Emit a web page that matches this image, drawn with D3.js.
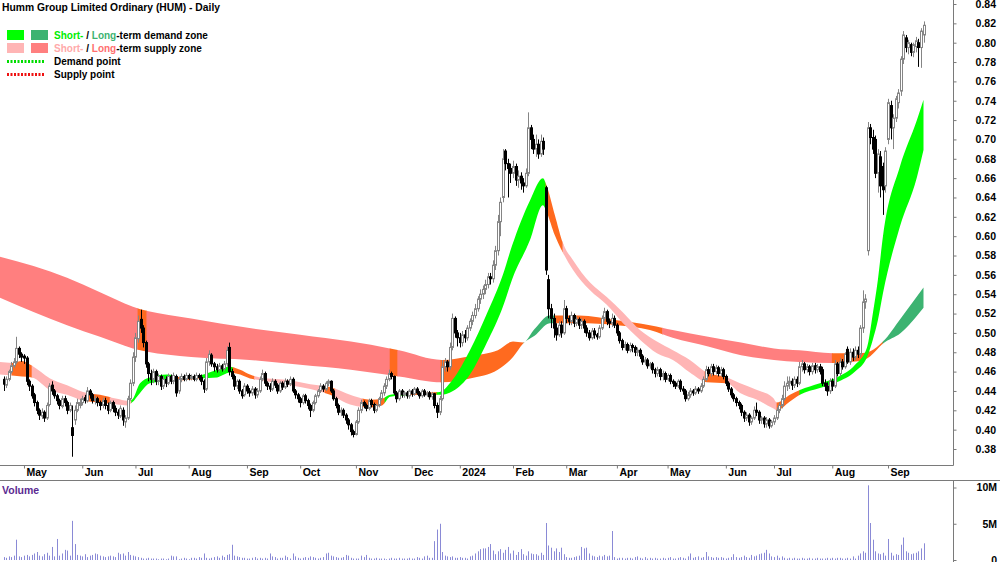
<!DOCTYPE html>
<html><head><meta charset="utf-8">
<script src="https://cdn.jsdelivr.net/npm/d3@7"></script>
<style>
body{margin:0;background:#fff}
svg{display:block}
text{font-family:"Liberation Sans",Arial,sans-serif;font-weight:bold;}
</style>
</head><body>
<svg id="c" width="1000" height="562"></svg>
<script>
// ---------- DATA (prices in thousandths of a dollar, volume in millions) ----------
const OPEN = [
452,446,452,460,466,470,484,478,476,474, 450,445,436,428,420,414,418,412,426,446,
440,435,430,424,432,428,420,402,410,420, 425,428,433,430,440,436,430,432,428,425,
430,425,420,428,422,418,414,420,408,412, 432,448,475,494,514,505,490,468,458,452,
460,450,455,445,452,448,455,450,455,440, 452,455,452,456,453,455,452,456,454,450,
442,470,477,468,465,462,466,463,468,485, 460,455,445,450,440,436,445,440,438,442,
436,440,452,458,448,445,442,450,446,440, 448,444,450,447,452,440,436,432,428,435,
430,425,420,428,435,440,445,442,448,450, 440,432,425,418,420,415,410,405,398,395,
408,420,428,425,422,430,426,420,425,432, 438,445,452,458,455,438,432,440,436,438,
435,440,437,442,438,435,440,436,438,434, 437,425,418,432,465,470,465,485,515,500,
495,490,498,495,505,512,518,525,535,540, 545,550,558,556,570,585,615,640,688,675,
670,665,672,658,662,655,652,665,712,700, 690,695,685,698,650,555,525,515,505,498,
508,500,525,515,512,518,510,514,508,512, 505,500,495,502,498,496,505,515,522,512,
510,515,508,500,492,485,488,482,487,485, 480,482,476,470,472,466,468,462,458,462,
455,458,452,456,450,448,445,450,442,440, 432,436,440,438,442,440,445,452,462,458,
465,460,464,458,462,455,448,442,436,432, 428,425,418,412,415,408,412,420,418,410,
412,406,410,404,408,412,420,425,432,445, 448,450,446,452,448,465,468,462,465,460,
466,462,465,462,448,445,440,450,445,468, 458,470,465,483,470,480,475,482,478,505,
532,585,712,702,700,665,682,672,652,700, 735,712,722,738,750,783,805,795,798,790,
796,800,795,808];
const HIGH = [
455,455,462,470,474,496,486,480,478,476, 452,447,438,430,422,422,420,428,448,450,
442,437,432,435,435,430,428,425,425,432, 432,435,436,444,442,438,435,434,430,433,
433,428,430,430,425,421,425,423,415,435, 452,480,500,518,524,508,492,470,462,463,
462,458,457,455,455,458,457,459,457,455, 458,457,459,458,457,457,459,458,457,452,
474,482,479,470,468,469,468,471,486,490, 463,457,452,452,442,448,447,443,445,444,
443,455,462,460,450,448,453,452,448,450, 450,453,452,455,454,442,438,434,437,437,
432,427,430,437,442,448,447,450,452,451, 442,434,427,423,422,417,412,407,400,410,
423,431,430,427,432,432,428,427,434,441, 448,455,462,460,456,440,442,442,440,440,
442,442,444,444,440,442,442,440,440,439, 438,428,435,472,474,472,490,520,517,503,
500,502,503,508,515,522,530,538,545,549, 555,562,562,575,590,622,640,690,690,680,
675,678,675,668,666,660,670,728,715,705, 705,700,705,702,652,560,530,520,510,512,
512,534,528,518,522,520,517,516,515,514, 508,503,505,505,500,508,518,526,524,515,
520,518,510,502,494,491,490,490,489,487, 485,484,478,475,474,470,470,464,465,464,
461,460,458,458,452,450,452,452,445,442, 439,443,442,445,444,448,455,466,465,468,
468,467,466,465,464,457,450,444,438,434, 430,427,420,418,417,414,424,428,420,414,
414,413,412,410,415,423,428,436,450,455, 455,453,455,455,470,472,470,468,467,469,
469,468,468,465,452,449,453,453,472,470, 474,473,480,486,484,484,486,486,508,544,
540,718,716,710,704,690,688,676,692,742, 740,726,745,752,786,812,808,803,800,800,
806,804,815,822];
const LOW = [
440,443,450,458,464,468,474,470,468,446, 440,432,424,416,410,411,408,410,424,436,
432,426,421,422,424,416,418,372,405,418, 422,425,427,428,432,427,426,424,420,422,
421,416,418,418,414,411,412,404,402,410, 430,445,470,490,500,485,464,450,446,448,
446,446,441,442,444,446,447,447,434,437, 449,450,450,451,451,450,450,451,446,438,
440,466,465,460,459,460,460,461,465,456, 452,441,442,437,432,434,437,434,435,432,
433,438,450,445,441,439,440,443,437,438, 441,442,444,445,438,432,428,423,426,427,
421,413,418,426,433,438,439,440,445,438, 430,422,415,414,412,406,400,394,392,394,
406,417,422,419,420,423,417,418,423,430, 435,442,450,452,436,428,430,433,433,432,
432,434,435,436,432,433,434,434,431,431, 422,412,415,430,460,460,462,482,495,486,
485,486,490,492,502,508,515,522,530,535, 540,546,550,552,565,580,600,635,668,640,
655,660,652,650,648,645,650,662,690,685, 682,680,682,684,560,515,505,495,492,496,
495,498,510,508,508,506,507,504,504,500, 496,492,493,494,493,494,503,512,508,505,
506,505,497,489,482,482,479,480,480,476, 476,473,467,467,463,463,458,454,455,451,
451,449,450,447,444,442,443,439,436,429, 430,433,435,436,437,438,443,450,455,455,
456,457,455,455,452,445,439,433,429,424, 421,414,408,409,404,405,410,414,406,406,
402,402,401,402,405,410,417,422,430,440, 442,441,443,444,446,460,458,459,456,457,
458,459,457,445,440,435,437,440,443,455, 455,462,463,468,467,471,472,474,475,500,
525,580,695,685,660,645,640,622,645,695, 700,690,718,732,745,778,790,788,786,785,
790,775,774,800];
const CLOSE = [
447,452,460,466,470,484,478,475,474,450, 445,435,428,420,415,418,412,425,445,440,
435,430,425,432,428,420,425,394,420,428, 428,432,430,440,436,430,432,428,425,430,
425,420,428,422,418,415,422,410,412,432, 448,475,495,512,505,490,468,458,452,460,
450,455,445,452,448,455,450,456,438,452, 455,452,456,453,455,452,456,454,450,442,
470,478,468,465,462,466,463,468,482,460, 455,445,450,440,435,445,440,438,442,436,
440,452,458,448,445,442,450,446,440,448, 444,450,447,452,440,436,432,428,435,430,
425,420,428,435,440,445,442,448,450,440, 432,425,418,420,415,410,405,398,395,408,
420,428,425,422,430,426,420,425,432,438, 445,452,458,455,438,432,440,436,438,435,
440,437,442,438,435,440,436,438,434,437, 425,418,432,465,470,465,485,515,500,495,
490,498,495,505,512,518,525,535,540,545, 550,558,556,570,585,615,635,680,675,670,
665,672,658,662,655,652,665,712,700,690, 695,685,698,690,565,525,515,505,498,508,
500,525,515,512,518,510,514,508,512,505, 500,495,502,498,496,505,515,522,512,510,
515,508,500,492,485,488,482,487,485,480, 482,476,470,472,466,468,462,458,462,455,
458,452,456,450,448,445,450,442,440,432, 436,440,438,442,440,445,452,462,458,465,
460,464,458,462,455,448,442,436,432,428, 425,418,412,415,408,412,420,418,410,412,
406,410,404,408,412,420,425,432,445,448, 450,446,452,448,465,468,462,465,460,466,
462,465,460,448,445,440,450,445,468,458, 470,465,478,470,480,475,482,478,505,532,
535,712,702,690,665,685,652,648,688,738, 712,722,742,748,783,808,795,800,790,798,
802,795,812,818];
const VOLUME = [
0.4,0.3,0.5,0.4,0.6,2.8,0.5,0.4,0.6,0.7, 0.5,0.7,0.9,1.1,0.6,0.5,0.8,1.0,0.6,1.8,
0.5,2.9,0.6,0.9,1.4,1.3,0.6,5.4,2.2,0.7, 0.6,0.5,0.8,0.4,0.6,0.7,0.9,0.8,0.6,0.5,
0.4,0.5,0.6,0.5,0.4,1.0,0.8,0.9,0.6,1.1, 0.7,0.6,0.5,0.4,0.3,0.2,0.2,0.3,0.2,0.2,
0.2,0.1,0.2,0.2,0.1,0.2,0.6,0.5,0.5,0.1, 0.2,0.3,0.2,0.1,0.3,0.3,0.2,0.4,0.3,0.9,
0.3,0.2,0.3,0.4,0.5,0.3,0.6,0.4,0.7,0.8, 2.1,0.6,0.5,0.4,0.3,0.3,0.2,0.2,0.3,0.4,
0.2,0.3,0.2,0.3,0.2,0.9,0.5,0.4,0.2,0.3, 0.3,0.6,0.4,0.2,0.9,0.5,0.3,0.2,0.3,0.4,
0.3,0.5,0.4,0.3,0.2,0.3,0.4,0.9,1.0,0.6, 0.5,0.4,0.3,0.3,0.4,0.7,0.6,0.3,0.2,0.2,
0.2,0.6,0.4,0.7,0.3,0.2,0.2,0.3,0.2,0.2, 0.2,0.1,0.2,0.3,0.2,0.2,0.3,0.2,0.2,0.2,
0.3,0.2,0.2,0.4,0.3,0.2,0.5,0.6,0.3,0.3, 2.6,4.2,5.0,1.1,0.6,0.5,0.4,0.5,0.3,0.3,
0.4,0.3,0.3,0.2,0.5,0.6,0.9,1.2,1.5,1.6, 1.6,1.8,2.2,1.3,0.8,1.2,1.5,1.0,1.4,1.8,
0.9,1.3,0.7,1.1,1.5,0.8,0.6,1.2,0.9,0.8, 0.8,0.6,1.0,0.7,5.1,2.0,1.7,1.2,1.6,1.1,
1.7,0.8,0.4,0.3,0.3,0.4,0.5,0.6,1.8,1.6, 1.7,0.9,0.6,0.5,0.4,0.6,0.5,0.7,0.5,0.6,
4.0,0.4,0.2,0.3,0.3,0.2,0.3,0.3,0.2,0.4, 0.5,0.3,0.2,0.4,0.2,0.3,0.2,0.3,0.2,0.2,
0.3,0.2,0.3,0.4,0.2,0.2,0.3,0.4,0.3,0.2, 0.5,0.9,0.3,0.4,0.5,0.3,0.4,1.1,0.5,0.4,
0.3,0.4,0.3,0.4,0.3,0.2,0.3,0.4,0.8,0.4, 0.3,0.4,0.6,0.4,0.3,0.7,0.5,0.6,0.8,0.9,
1.0,1.4,0.9,0.5,0.4,0.6,0.3,0.5,0.3,0.2, 0.3,0.2,0.3,0.2,0.2,0.3,0.2,0.2,0.3,0.2,
0.2,0.3,0.2,0.2,0.2,0.3,0.2,0.3,0.2,0.3, 0.3,0.2,0.2,0.3,0.2,0.5,0.2,0.6,0.9,1.2,
1.0,10.3,5.1,2.8,1.2,0.9,0.8,1.0,0.6,2.9, 1.0,0.6,0.8,0.7,2.1,3.1,1.2,1.0,0.8,0.9,
1.0,1.2,1.6,2.3];

// month tick labels at bar index of first trading day
const MONTH_IDX = [8,31,52,73,96,117,139,161,180,201,222,242,262,285,304,327,349];
const MONTH_LBL = ["May","Jun","Jul","Aug","Sep","Oct","Nov","Dec","2024","Feb","Mar","Apr","May","Jun","Jul","Aug","Sep"];
const PRICE_TICKS = [0.38,0.40,0.42,0.44,0.46,0.48,0.50,0.52,0.54,0.56,0.58,0.60,0.62,0.64,0.66,0.68,0.70,0.72,0.74,0.76,0.78,0.80,0.82,0.84];
const VOL_TICKS = [0,5,10];
const VOL_LBL = ["0","5M","10M"];

// long-term zone: [bar index, upper, lower]
const LONG_ZONE = [
[-2,.579,.537],[25,.557,.508],[38,.542,.496],[51,.527,.484],[74,.515,.475],[97,.505,.472],
[117,.498,.467],[137,.491,.462],[156,.482,.455],[173,.472,.449],[184,.476,.453],[195,.482,.462],
[201,.491,.475],[205,.490,.489],[209.5,.504,.497],[215.5,.518,.510],[227,.518,.510],[242,.513,.508],
[255,.508,.503],[264,.503,.495],[278,.496,.486],[291,.490,.477],[304,.484,.472],[314,.482,.470],
[327,.479,.469],[338,.479,.471],[342,.481,.476],[347,.491,.489],[354,.515,.500],[363,.547,.526]];
const LONG_SEGS = [[-2,53,"ltSupply"],[53,56.5,"mixed"],[56.5,152.5,"ltSupply"],[152.5,155.5,"mixed"],
[155.5,172.5,"ltSupply"],[172.5,205.3,"mixed"],[205.3,217.5,"ltDemand"],[217.5,260,"mixed"],
[260,327,"ltSupply"],[327,347,"mixed"],[347,364,"ltDemand"]];

// short-term zone: [bar index, upper, lower]
const SHORT_ZONE = [
[-2,.470,.457],[3.3,.469,.456],[7.2,.471,.455],[11.2,.466,.454],[18.3,.453,.441],[25,.446,.436],
[31.3,.439,.430],[38,.436,.428],[44.7,.432,.426],[48.7,.430,.425],[50.6,.431,.428],[53.8,.448,.438],
[57.7,.454,.448],[64.4,.457,.450],[70.8,.454,.451],[77.5,.456,.453],[84.2,.462,.454],[89.3,.465,.459],
[93.3,.462,.457],[97.2,.457,.453],[101.2,.454,.451],[113,.451,.446],[121,.447,.442],[128.8,.444,.436],
[136.7,.436,.426],[144.6,.431,.423],[149.3,.432,.425],[152.5,.436,.434],[156.4,.437,.435],
[164.3,.438,.436],[172,.439,.436],[177.3,.452,.440],[184,.482,.457],[190.7,.520,.490],
[197,.560,.527],[200.6,.590,.555],[207.7,.637,.596],[212.8,.660,.632],[214.4,.651,.624],
[217.5,.622,.601],[220.7,.593,.583],[224.7,.575,.565],[231.4,.552,.544],[238,.537,.529],
[244.4,.521,.510],[251.1,.503,.493],[257.8,.491,.479],[264.1,.482,.472],[270.8,.472,.459],
[277.5,.459,.449],[285.4,.454,.448],[290.6,.448,.438],[297.3,.441,.431],[303.6,.433,.422],
[305.2,.428,.420],[310.3,.436,.429],[314.2,.441,.436],[322.1,.448,.443],[328.8,.454,.449],
[336,.467,.460],[340.7,.485,.475],[343,.520,.493],[345,.555,.513],[347,.600,.541],
[353.7,.672,.610],[360.4,.720,.661],[363,.741,.689]];
const SHORT_SEGS = [[-2,3.3,"stSupply"],[3.3,11.2,"mixed"],[11.2,33.3,"stSupply"],[33.3,42,"mixed"],
[42,50.5,"stSupply"],[50.5,66.8,"stDemand"],[66.8,77.5,"mixed"],[77.5,90.5,"stDemand"],
[90.5,99,"mixed"],[99,126.8,"stSupply"],[126.8,130.8,"mixed"],[130.8,141.8,"stSupply"],
[141.8,150.5,"mixed"],[150.5,159.2,"stDemand"],[159.2,171,"mixed"],[171,214,"stDemand"],
[214,220.7,"mixed"],[220.7,276.8,"stSupply"],[276.8,285.4,"mixed"],[285.4,305.2,"stSupply"],
[305.2,314.2,"mixed"],[314.2,364,"stDemand"]];

// ---------- DRAWING ----------
const COL = {ltSupply:"#FF7F7F", stSupply:"#FFB5B5", mixed:"#FF6A1F", stDemand:"#00FF00", ltDemand:"#3CB371"};
const svg = d3.select("#c");
const defs = svg.append("defs");
const x = d3.scaleLinear().domain([0, 363]).range([3.7, 923.5]);
const y = d3.scaleLinear().domain([0.38, 0.84]).range([449, 4]);
const yv = d3.scaleLinear().domain([0, 10]).range([560, 487.5]);
const P = v => v / 1000;

defs.append("clipPath").attr("id","plotclip").append("rect").attr("x",0).attr("y",0).attr("width",953).attr("height",465);
const plot = svg.append("g").attr("clip-path","url(#plotclip)");

function drawZone(samples, segs, id) {
  const area = d3.area().x(d => x(d[0])).y0(d => y(d[2])).y1(d => y(d[1])).curve(d3.curveMonotoneX);
  const d = area(samples);
  const g = plot.append("g");
  segs.forEach(([a, b, c], k) => {
    const cid = id + k;
    defs.append("clipPath").attr("id", cid).append("rect")
      .attr("x", x(a) - 0.4).attr("width", x(b) - x(a) + 0.8).attr("y", 0).attr("height", 465);
    g.append("path").attr("d", d).attr("fill", COL[c]).attr("clip-path", `url(#${cid})`);
  });
}
drawZone(LONG_ZONE, LONG_SEGS, "lz");
drawZone(SHORT_ZONE, SHORT_SEGS, "sz");

// candles
const cg = plot.append("g");
CLOSE.forEach((c, i) => {
  const o = OPEN[i], up = c >= o;
  const cx = Math.round(x(i));
  const col = up ? "#858585" : "#000";
  cg.append("line").attr("x1", cx + 0.5).attr("x2", cx + 0.5)
    .attr("y1", y(P(HIGH[i]))).attr("y2", y(P(LOW[i]))).attr("stroke", col).attr("stroke-width", 1);
  const top = y(P(Math.max(o, c))), bot = y(P(Math.min(o, c)));
  cg.append("rect").attr("x", cx - 0.5).attr("width", 2)
    .attr("y", top).attr("height", Math.max(1, bot - top))
    .attr("fill", up ? "#fff" : "#000").attr("stroke", col).attr("stroke-width", 1);
});

// volume
const vg = svg.append("g");
VOLUME.forEach((v, i) => {
  const cx = Math.round(x(i)) + 0.5;
  vg.append("line").attr("x1", cx).attr("x2", cx).attr("y1", yv(0)).attr("y2", yv(v))
    .attr("stroke", "#8A8AD6").attr("stroke-width", 1);
});

// frame lines
const lc = "#7a7a7a";
svg.append("line").attr("x1",0).attr("x2",953.5).attr("y1",465.5).attr("y2",465.5).attr("stroke",lc);
svg.append("line").attr("x1",0).attr("x2",1000).attr("y1",480.5).attr("y2",480.5).attr("stroke",lc);
svg.append("line").attr("x1",953.5).attr("x2",953.5).attr("y1",0).attr("y2",465.5).attr("stroke",lc);
svg.append("line").attr("x1",953.5).attr("x2",953.5).attr("y1",480.5).attr("y2",562).attr("stroke",lc);

const FONT = "'Liberation Sans',Arial,sans-serif";
// price axis
const pa = svg.append("g").attr("transform","translate(953.5,0)")
  .call(d3.axisRight(y).tickValues(PRICE_TICKS).tickSize(3).tickFormat(d3.format(".2f")));
pa.select(".domain").remove();
pa.selectAll(".tick line").attr("stroke", lc);
pa.selectAll(".tick text").attr("x", 42.5).attr("text-anchor","end").attr("fill","#000")
  .style("font-size","10.5px").style("font-family",FONT).style("font-weight","bold");

// volume axis
const va = svg.append("g").attr("transform","translate(953.5,0)")
  .call(d3.axisRight(yv).tickValues(VOL_TICKS).tickSize(3).tickFormat((d,k) => VOL_LBL[k]));
va.select(".domain").remove();
va.selectAll(".tick line").attr("stroke", lc);
va.selectAll(".tick text").attr("x", 43.5).attr("text-anchor","end").attr("fill","#000")
  .style("font-size","10.5px").style("font-family",FONT).style("font-weight","bold");

// month axis
const ma = svg.append("g").attr("transform","translate(0,465.5)")
  .call(d3.axisBottom(x).tickValues(MONTH_IDX).tickSize(3).tickFormat((d,k) => MONTH_LBL[k]));
ma.select(".domain").remove();
ma.selectAll(".tick line").attr("stroke", lc);
ma.selectAll(".tick text").attr("x", 2).attr("y", 3).attr("dy","0.71em").attr("text-anchor","start").attr("fill","#000")
  .style("font-size","10.5px").style("font-family",FONT).style("font-weight","bold");

// title & labels
svg.append("text").attr("x",2).attr("y",11).style("font-size","10.3px").attr("fill","#000")
  .text("Humm Group Limited Ordinary (HUM) - Daily");
svg.append("text").attr("x",2).attr("y",494).style("font-size","10.5px").attr("fill","#5B2A91").text("Volume");

// legend
const lg = svg.append("g");
lg.append("rect").attr("x",7).attr("y",30).attr("width",17).attr("height",10).attr("fill",COL.stDemand);
lg.append("rect").attr("x",31).attr("y",30).attr("width",17).attr("height",10).attr("fill",COL.ltDemand);
lg.append("rect").attr("x",7).attr("y",43).attr("width",17).attr("height",10).attr("fill",COL.stSupply);
lg.append("rect").attr("x",31).attr("y",43).attr("width",17).attr("height",10).attr("fill",COL.ltSupply);
lg.append("line").attr("x1",7).attr("x2",45).attr("y1",61.5).attr("y2",61.5).attr("stroke","#00DD00").attr("stroke-width",3).attr("stroke-dasharray","2,1.5");
lg.append("line").attr("x1",7).attr("x2",45).attr("y1",74.5).attr("y2",74.5).attr("stroke","#EE1111").attr("stroke-width",3).attr("stroke-dasharray","2,1.5");
function legendRow(yy, parts) {
  const t = lg.append("text").attr("x",54).attr("y",yy).style("font-size","10px");
  parts.forEach(([s, c]) => t.append("tspan").attr("fill", c).text(s));
}
legendRow(38.5, [["Short-","#00EE00"],[" / ","#000"],["Long","#3CB371"],["-term demand zone","#000"]]);
legendRow(51.5, [["Short-","#FFAAAA"],[" / ","#000"],["Long","#FF6F6F"],["-term supply zone","#000"]]);
legendRow(65, [["Demand point","#000"]]);
legendRow(78, [["Supply point","#000"]]);
</script>
</body></html>
